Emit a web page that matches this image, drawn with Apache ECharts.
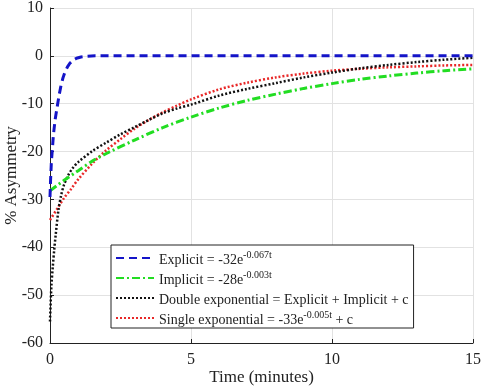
<!DOCTYPE html>
<html>
<head>
<meta charset="utf-8">
<script src="https://cdn.jsdelivr.net/npm/echarts@6/dist/echarts.min.js"></script>
<style>html,body{margin:0;padding:0;background:#fff}#c{width:485px;height:390px}</style>
</head>
<body>
<div id="c"></div>
<script>
// Time (minutes) and % asymmetry
var explicitT = [0, 0.02, 0.05, 0.08, 0.12, 0.18, 0.27, 0.33, 0.39, 0.46, 0.53, 0.62, 0.71, 0.82, 0.94, 1.1, 1.3, 1.6, 2, 5, 10, 15];
var explicitV = [-29.5, -26, -22, -19.8, -16.6, -13.4, -10.1, -8, -6.2, -4.6, -3.4, -2.3, -1.5, -0.9, -0.5, -0.25, -0.1, 0, 0, 0, 0, 0];

var implicitT = [0, 0.5, 1, 1.5, 2, 3, 4, 5, 6, 7, 8, 9, 10, 11, 12, 13, 14, 15];
var implicitV = [-28.2, -26.0, -24.0, -22.0, -20.4, -17.6, -15.0, -12.8, -10.9, -9.3, -8.0, -6.8, -5.8, -4.9, -4.2, -3.6, -3.1, -2.7];

var doubleT = [0, 0.05, 0.1, 0.15, 0.2, 0.3, 0.4, 0.5, 0.65, 0.8, 1, 1.5, 2, 2.5, 3, 3.5, 4, 4.5, 5, 6, 7, 8, 9, 10, 11, 12, 13, 14, 15];
var doubleV = [-55.5, -48, -44, -40.5, -37.5, -32.2, -29, -26.9, -24.9, -23.5, -22.2, -19.9, -18.1, -16.4, -14.9, -13.4, -12.0, -11.0, -10.2, -8.3, -6.9, -5.7, -4.5, -3.5, -2.6, -1.9, -1.3, -0.8, -0.4];

var singleT = [0, 0.25, 0.5, 0.75, 1, 1.5, 2, 2.5, 3, 3.5, 4, 4.5, 5, 6, 7, 8, 9, 10, 11, 12, 13, 14, 15];
var singleV = [-34.3, -32.0, -29.7, -27.8, -25.8, -22.5, -19.7, -17.4, -15.2, -13.4, -11.8, -10.4, -9.1, -7.0, -5.6, -4.5, -3.7, -3.1, -2.7, -2.4, -2.2, -2.0, -1.9];

var seriesNames = ['Explicit', 'Implicit', 'Double', 'Single'];
var xTicks = [0, 5, 10, 15];
var yTicks = [-60, -50, -40, -30, -20, -10, 0, 10];

function pairs(t, v) { return t.map(function (x, i) { return [x, v[i]]; }); }

var font = '"Liberation Serif", "Times New Roman", serif';
var chart = echarts.init(document.getElementById('c'), null, {renderer: 'canvas'});

var legendText = {
  Explicit: '{m|Explicit = -32e}{s|-0.067t}',
  Implicit: '{m|Implicit = -28e}{s|-0.003t}',
  Double: '{m|Double exponential = Explicit + Implicit + c}',
  Single: '{m|Single exponential = -33e}{s|-0.005t}{m| + c}'
};

chart.setOption({
  animation: false,
  backgroundColor: '#fff',
  grid: {left: 50, right: 12, top: 8, bottom: 47, containLabel: false, outerBoundsMode: 'none'},
  xAxis: {
    type: 'value', min: xTicks[0], max: xTicks[xTicks.length - 1], interval: 5,
    name: 'Time (minutes)', nameLocation: 'middle', nameGap: 26, nameMoveOverlap: false,
    nameTextStyle: {fontFamily: font, fontSize: 17, color: '#222'},
    axisLine: {show: true, onZero: false, lineStyle: {color: '#222', width: 1}},
    axisTick: {show: true, inside: true, length: 4, lineStyle: {color: '#222'}},
    axisLabel: {fontFamily: font, fontSize: 16, color: '#222', margin: 9},
    splitLine: {show: true, lineStyle: {color: '#e2e2e2', width: 1}}
  },
  yAxis: {
    type: 'value', min: yTicks[0], max: yTicks[yTicks.length - 1], interval: 10,
    name: '% Asymmetry', nameLocation: 'middle', nameGap: 30, nameMoveOverlap: false,
    nameTextStyle: {fontFamily: font, fontSize: 17, color: '#222'},
    axisLine: {show: true, onZero: false, lineStyle: {color: '#222', width: 1}},
    axisTick: {show: true, inside: true, length: 4, lineStyle: {color: '#222'}},
    axisLabel: {fontFamily: font, fontSize: 16, color: '#222', margin: 7},
    splitLine: {show: true, lineStyle: {color: '#e2e2e2', width: 1}}
  },
  legend: {
    orient: 'vertical', left: 111, top: 245,
    padding: [4, 5, 1, 4],
    itemWidth: 38, itemHeight: 14, itemGap: 2, itemTextGap: 5,
    backgroundColor: '#fff', borderColor: '#222', borderWidth: 1, borderRadius: 0,
    itemStyle: {opacity: 0, borderWidth: 0},
    data: seriesNames,
    formatter: function (n) { return legendText[n]; },
    textStyle: {
      fontFamily: font, fontSize: 14, color: '#222',
      rich: {
        m: {fontFamily: font, fontSize: 14, color: '#222', lineHeight: 16, padding: [4, 0, 0, 0]},
        s: {fontFamily: font, fontSize: 10, color: '#222', lineHeight: 12, verticalAlign: 'top'}
      }
    }
  },
  series: [
    {name: seriesNames[0], type: 'line', data: pairs(explicitT, explicitV), showSymbol: false, symbol: 'none',
     lineStyle: {color: '#1414c8', width: 3, type: [8, 5]}, itemStyle: {color: '#1414c8'}, z: 5},
    {name: seriesNames[1], type: 'line', data: pairs(implicitT, implicitV), showSymbol: false, symbol: 'none', smooth: 0.3,
     lineStyle: {color: '#22dd22', width: 3, type: [8, 3, 2, 3]}, itemStyle: {color: '#22dd22'}, z: 4},
    {name: seriesNames[2], type: 'line', data: pairs(doubleT, doubleV), showSymbol: false, symbol: 'none', smooth: 0.3,
     lineStyle: {color: '#111', width: 2.5, type: [2, 2]}, itemStyle: {color: '#111'}, z: 3},
    {name: seriesNames[3], type: 'line', data: pairs(singleT, singleV), showSymbol: false, symbol: 'none', smooth: 0.3,
     lineStyle: {color: '#e82828', width: 2.5, type: [2, 2]}, itemStyle: {color: '#e82828'}, z: 2}
  ]
});
</script>
</body>
</html>
